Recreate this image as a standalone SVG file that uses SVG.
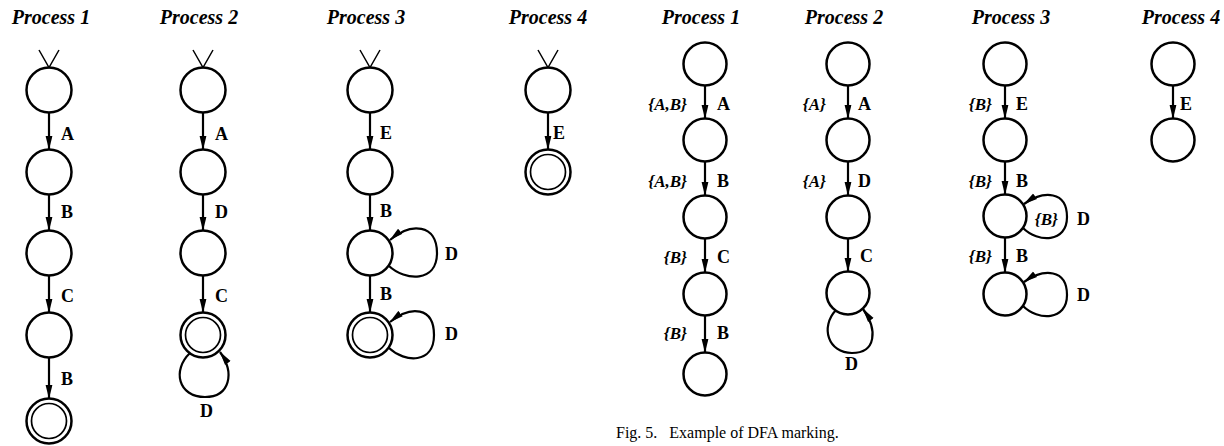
<svg xmlns="http://www.w3.org/2000/svg" width="1224" height="446" viewBox="0 0 1224 446">
<style>
.st{fill:none;stroke:#000;stroke-width:2.5}
.in{fill:none;stroke:#000;stroke-width:1.7}
.e{fill:none;stroke:#000;stroke-width:2.2}
.v{fill:none;stroke:#000;stroke-width:1.5}
.t{font-family:"Liberation Serif",serif;font-weight:bold;font-style:italic;font-size:20px;text-anchor:middle}
.l{font-family:"Liberation Serif",serif;font-weight:bold;font-size:18px}
.m{font-family:"Liberation Serif",serif;font-weight:bold;font-style:italic;font-size:17px;text-anchor:end}
.c{font-family:"Liberation Serif",serif;font-size:16px}
</style>
<defs>
<marker id="ah" markerUnits="userSpaceOnUse" markerWidth="14" markerHeight="8" viewBox="0 0 14 8" refX="13.5" refY="4" orient="auto">
<path d="M0,0.6 L14,4 L0,7.4 z" fill="#000"/>
</marker>
</defs>
<rect width="1224" height="446" fill="#fff"/>

<g id="titles">
<text class="t" x="51" y="24">Process 1</text>
<text class="t" x="199" y="24">Process 2</text>
<text class="t" x="366" y="24">Process 3</text>
<text class="t" x="548" y="24">Process 4</text>
<text class="t" x="701" y="24">Process 1</text>
<text class="t" x="844" y="24">Process 2</text>
<text class="t" x="1011" y="24">Process 3</text>
<text class="t" x="1181" y="24">Process 4</text>
</g>

<!-- Left Process 1 -->
<g id="L1n1"><circle class="st" cx="49" cy="90" r="22.5"/><path class="v" d="M39,50 L49,67.5 L59,50"/></g>
<g id="L1n2"><circle class="st" cx="49" cy="172" r="22.5"/></g>
<g id="L1n3"><circle class="st" cx="49" cy="253" r="22.5"/></g>
<g id="L1n4"><circle class="st" cx="49" cy="335" r="22.5"/></g>
<g id="L1n5"><circle class="st" cx="49" cy="421" r="22.5"/><circle class="in" cx="49" cy="421" r="17.5"/></g>

<!-- Left Process 2 -->
<g id="L2n1"><circle class="st" cx="203" cy="90" r="22.5"/><path class="v" d="M193,50 L203,67.5 L213,50"/></g>
<g id="L2n2"><circle class="st" cx="203" cy="172" r="22.5"/></g>
<g id="L2n3"><circle class="st" cx="203" cy="253" r="22.5"/></g>
<g id="L2n4"><circle class="st" cx="203" cy="335" r="22.5"/><circle class="in" cx="203" cy="335" r="17.5"/></g>

<!-- Left Process 3 -->
<g id="L3n1"><circle class="st" cx="370" cy="90" r="22.5"/><path class="v" d="M360,50 L370,67.5 L380,50"/></g>
<g id="L3n2"><circle class="st" cx="370" cy="172" r="22.5"/></g>
<g id="L3n3"><circle class="st" cx="370" cy="253" r="22.5"/></g>
<g id="L3n4"><circle class="st" cx="370" cy="335" r="22.5"/><circle class="in" cx="370" cy="335" r="17.5"/></g>

<!-- Left Process 4 -->
<g id="L4n1"><circle class="st" cx="548" cy="90" r="22.5"/><path class="v" d="M538,50 L548,67.5 L558,50"/></g>
<g id="L4n2"><circle class="st" cx="548" cy="172" r="22.5"/><circle class="in" cx="548" cy="172" r="17.5"/></g>

<!-- Right Process 1 -->
<g id="R1n1"><circle class="st" cx="705" cy="64" r="21.5"/></g>
<g id="R1n2"><circle class="st" cx="705" cy="140" r="21.5"/></g>
<g id="R1n3"><circle class="st" cx="705" cy="217" r="21.5"/></g>
<g id="R1n4"><circle class="st" cx="705" cy="294" r="21.5"/></g>
<g id="R1n5"><circle class="st" cx="705" cy="374" r="21.5"/></g>

<!-- Right Process 2 -->
<g id="R2n1"><circle class="st" cx="848" cy="64" r="21.5"/></g>
<g id="R2n2"><circle class="st" cx="848" cy="140" r="21.5"/></g>
<g id="R2n3"><circle class="st" cx="848" cy="217" r="21.5"/></g>
<g id="R2n4"><circle class="st" cx="848" cy="293" r="21.5"/></g>

<!-- Right Process 3 -->
<g id="R3n1"><circle class="st" cx="1005" cy="64" r="21.5"/></g>
<g id="R3n2"><circle class="st" cx="1005" cy="140" r="21.5"/></g>
<g id="R3n3"><circle class="st" cx="1005" cy="216" r="21.5"/></g>
<g id="R3n4"><circle class="st" cx="1005" cy="294" r="21.5"/></g>

<!-- Right Process 4 -->
<g id="R4n1"><circle class="st" cx="1173" cy="64" r="21.5"/></g>
<g id="R4n2"><circle class="st" cx="1173" cy="140" r="21.5"/></g>

<g id="connectors">
<path class="e" marker-end="url(#ah)" d="M49,112.5 V149.5"/>
<path class="e" marker-end="url(#ah)" d="M49,194.5 V230.5"/>
<path class="e" marker-end="url(#ah)" d="M49,275.5 V312.5"/>
<path class="e" marker-end="url(#ah)" d="M49,357.5 V398.5"/>
<path class="e" marker-end="url(#ah)" d="M203,112.5 V149.5"/>
<path class="e" marker-end="url(#ah)" d="M203,194.5 V230.5"/>
<path class="e" marker-end="url(#ah)" d="M203,275.5 V312.5"/>
<path class="e" marker-end="url(#ah)" d="M190,353 C172,370 178,397 205,397 C230,397 235,373 220,352"/>
<path class="e" marker-end="url(#ah)" d="M370,112.5 V149.5"/>
<path class="e" marker-end="url(#ah)" d="M370,194.5 V230.5"/>
<path class="e" marker-end="url(#ah)" d="M370,275.5 V312.5"/>
<path class="e" marker-end="url(#ah)" d="M389,266 C405,281 437,283 437,253 C437,224 411,222 390,240"/>
<path class="e" marker-end="url(#ah)" d="M389,348 C405,363 434,364 434,335 C434,307 411,305 390,322"/>
<path class="e" marker-end="url(#ah)" d="M548,112.5 V149.5"/>
<path class="e" marker-end="url(#ah)" d="M705,85.5 V118.5"/>
<path class="e" marker-end="url(#ah)" d="M705,161.5 V195.5"/>
<path class="e" marker-end="url(#ah)" d="M705,238.5 V272.5"/>
<path class="e" marker-end="url(#ah)" d="M705,315.5 V352.5"/>
<path class="e" marker-end="url(#ah)" d="M848,85.5 V118.5"/>
<path class="e" marker-end="url(#ah)" d="M848,161.5 V195.5"/>
<path class="e" marker-end="url(#ah)" d="M848,238.5 V271.5"/>
<path class="e" marker-end="url(#ah)" d="M836,310 C820,327 828,353 852,353 C876,353 878,330 863,309"/>
<path class="e" marker-end="url(#ah)" d="M1005,85.5 V118.5"/>
<path class="e" marker-end="url(#ah)" d="M1005,161.5 V194.5"/>
<path class="e" marker-end="url(#ah)" d="M1005,237.5 V272.5"/>
<path class="e" marker-end="url(#ah)" d="M1023,228 C1038,243 1067,243 1067,217 C1067,191 1044,190 1024,204"/>
<path class="e" marker-end="url(#ah)" d="M1023,306 C1038,321 1067,321 1067,295 C1067,269 1044,268 1024,282"/>
<path class="e" marker-end="url(#ah)" d="M1173,85.5 V118.5"/>
</g>

<g id="labels">
<text class="l" x="61" y="140">A</text>
<text class="l" x="61" y="218">B</text>
<text class="l" x="61" y="302">C</text>
<text class="l" x="61" y="385">B</text>

<text class="l" x="215" y="140">A</text>
<text class="l" x="215" y="218">D</text>
<text class="l" x="215" y="302">C</text>
<text class="l" x="200" y="417">D</text>

<text class="l" x="380" y="139">E</text>
<text class="l" x="380" y="217">B</text>
<text class="l" x="380" y="300">B</text>
<text class="l" x="445" y="260">D</text>
<text class="l" x="445" y="340">D</text>

<text class="l" x="553" y="139">E</text>

<text class="m" x="687" y="110">{A,B}</text>
<text class="l" x="717" y="110">A</text>
<text class="m" x="687" y="187">{A,B}</text>
<text class="l" x="717" y="187">B</text>
<text class="m" x="687" y="263">{B}</text>
<text class="l" x="717" y="263">C</text>
<text class="m" x="687" y="339">{B}</text>
<text class="l" x="717" y="339">B</text>

<text class="m" x="826" y="110">{A}</text>
<text class="l" x="858" y="110">A</text>
<text class="m" x="826" y="187">{A}</text>
<text class="l" x="858" y="187">D</text>
<text class="l" x="860" y="262">C</text>
<text class="l" x="845" y="370">D</text>

<text class="m" x="992" y="110">{B}</text>
<text class="l" x="1016" y="110">E</text>
<text class="m" x="992" y="187">{B}</text>
<text class="l" x="1016" y="187">B</text>
<text class="m" x="1058" y="225">{B}</text>
<text class="l" x="1077" y="225">D</text>
<text class="m" x="992" y="262">{B}</text>
<text class="l" x="1016" y="262">B</text>
<text class="l" x="1077" y="301">D</text>

<text class="l" x="1180" y="110">E</text>
</g>

<text class="c" x="616" y="438" xml:space="preserve">Fig. 5.   Example of DFA marking.</text>
</svg>
